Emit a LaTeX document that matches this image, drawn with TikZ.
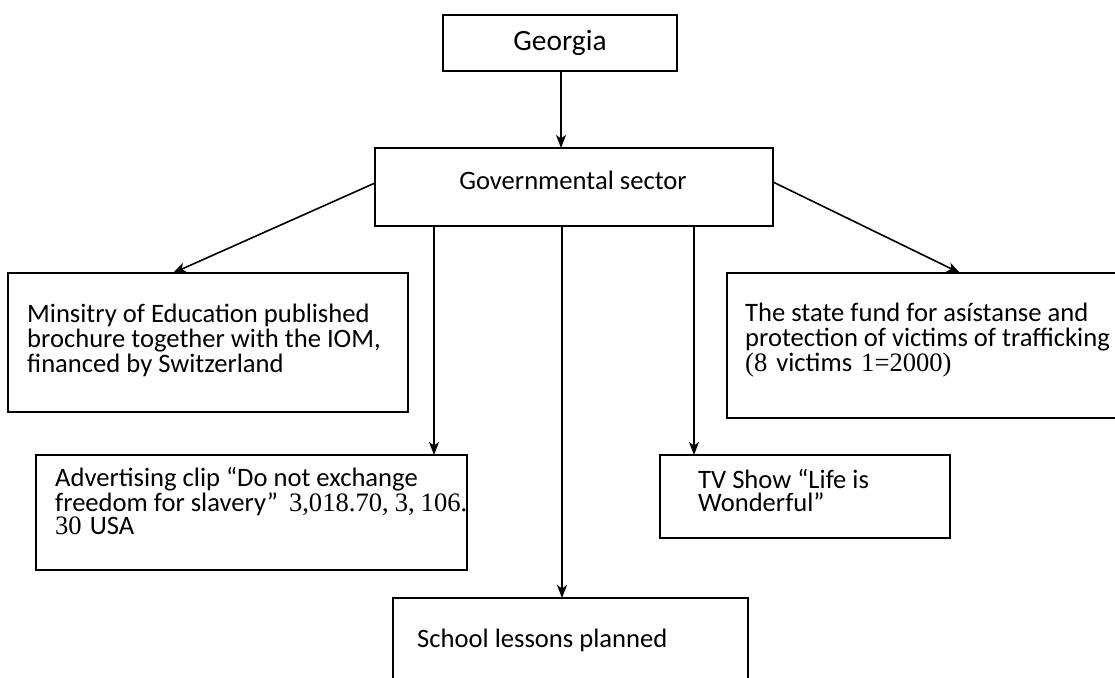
\documentclass[tikz,border=0pt]{standalone}
\usepackage{fontspec}
\setmainfont{Carlito}
\newfontfamily\numfont{Liberation Serif}
\usetikzlibrary{arrows.meta}
\begin{document}
\begin{tikzpicture}[x=1bp,y=-1bp,
  frame/.style={draw, line width=1.8bp, rectangle, inner sep=0pt, outer sep=0pt},
  txt/.style={inner sep=0pt, anchor=base west, align=left, font=\fontsize{26.7}{25}\selectfont},
  arr/.style={line width=1.6bp, -{Stealth[length=13bp,width=10bp,inset=3.5bp]}}]
\useasboundingbox (0,0) rectangle (1115,678);
\clip (0,0) rectangle (1115,678);

% boxes
\node[frame, minimum width=234bp, minimum height=56bp] (geo) at (560,43) {};
\node[frame, minimum width=398bp, minimum height=78bp] (gov) at (574,187) {};
\node[frame, minimum width=400bp, minimum height=139bp] (min) at (208,342.5) {};
\node[frame, minimum width=431bp, minimum height=115bp] (adv) at (251.5,512.5) {};
\node[frame, minimum width=398bp, minimum height=145bp] (fund) at (926,345.5) {};
\node[frame, minimum width=290bp, minimum height=83bp] (tv) at (805,496.5) {};
\node[frame, minimum width=355bp, minimum height=102bp] (sch) at (570.5,649) {};

% texts (multi-line nodes sit on the baseline of their last line)
\node[txt, anchor=base, font=\fontsize{29.5}{30}\selectfont] (geot) at (560,51) {Georgia};
\node[txt, anchor=base] (govt) at (573,190) {Governmental sector};
\node[txt] (mint) at (27,372) {Minsitry of Education published\\brochure together with the IOM,\\financed by Switzerland};
\node[txt, font=\fontsize{26.7}{23}\selectfont] (advt) at (55,534) {Advertising clip “Do not exchange\\freedom for slavery”\hspace{11bp}{\numfont 3,018.70,\hspace{6bp}3,\hspace{6bp}106.}\\{\numfont 30}\hspace{8bp}USA};
\node[txt] (fundt) at (745,371) {The state fund for asístanse and\\protection of victims of trafficking\\{\numfont (8}\hspace{9bp}victims\hspace{9bp}{\numfont 1=2000)}};
\node[txt, font=\fontsize{26.7}{23}\selectfont] (tvt) at (698,511) {TV Show “Life is\\Wonderful”};
\node[txt] (scht) at (417,647) {School lessons planned};

% connectors
\coordinate (advtop) at ([xshift=-33bp]adv.north east);
\coordinate (tvtop) at ([xshift=34bp]tv.north west);
\coordinate (schtop) at ([xshift=-8.5bp]sch.north);
\draw[arr] ([xshift=1bp]geo.south) -- ([xshift=1bp]geo.south |- gov.north);
\draw[arr] ([yshift=4bp]gov.west) -- ([xshift=-35bp]min.north);
\draw[arr] ([yshift=5bp]gov.east) -- ([xshift=34bp]fund.north);
\draw[arr] (advtop |- gov.south) -- (advtop);
\draw[arr] (tvtop |- gov.south) -- (tvtop);
\draw[arr] (schtop |- gov.south) -- (schtop);
\end{tikzpicture}
\end{document}
